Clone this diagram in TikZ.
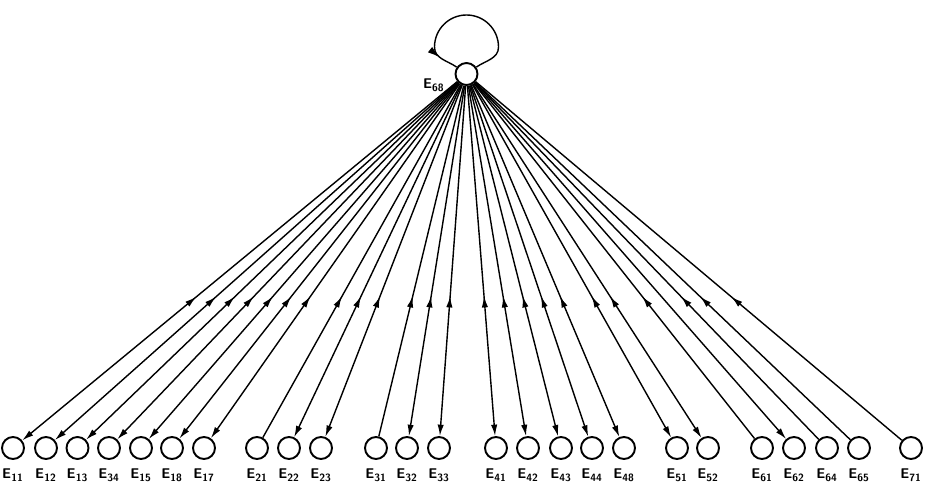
\documentclass[tikz,border=0pt]{standalone}
\usetikzlibrary{arrows.meta,decorations.markings}
\newcommand{\ename}[1]{E\textsubscript{#1}}
\tikzset{
  unit/.style={circle,draw,line width=1.1pt,minimum size=0.44cm,inner sep=0pt},
  lab/.style={font=\fontsize{8}{9}\selectfont\sffamily\bfseries,inner sep=1pt},
  link/.style={line width=0.8pt},
  tip/.style={-{Latex[length=6.5pt,width=3.6pt]}},
  midup/.style={postaction={decorate},decoration={markings,
    mark=at position 0.6 with {\arrowreversed{Latex[length=6.5pt,width=3.6pt]}}}},
}
\begin{document}
\begin{tikzpicture}
  \useasboundingbox (0,0) rectangle (18.5,9.76);
  % top unit with its loop
  \node[unit,label={[lab,label distance=0.16cm]189:\ename{68}}] (e68) at (9.33,8.28) {};
  \coordinate (loopR) at (9.97,8.82);
  \draw[link,postaction={decorate},decoration={markings,
    mark=at position 0.88 with {\arrow{Latex[length=7pt,width=4pt]}}}]
    (e68.35) to[out=35,in=-90] (loopR)
    arc[start angle=0,end angle=180,radius=0.64]
    to[out=-90,in=145] (e68.145);
  % bottom row
  \foreach \n/\x in {11/0.26,12/0.92,13/1.55,34/2.18,15/2.82,18/3.44,17/4.08,
                     21/5.14,22/5.78,23/6.42,31/7.52,32/8.14,33/8.78,
                     41/9.92,42/10.56,43/11.22,44/11.84,48/12.48,51/13.54,52/14.16,
                     61/15.24,62/15.88,64/16.54,65/17.18,71/18.22}
    \node[unit,label={[lab,label distance=1.4mm]below:\ename{\n}}] (e\n) at (\x,0.8) {};
  % fan of links
  \foreach \n in {11,12,13,34,15,18,17,22,23,32,33,41,42,43,44,48,51,52}
    \draw[link,tip,midup] (e68) -- (e\n);
  \foreach \n in {21,31,61,64,65,71}
    \draw[link,midup] (e68) -- (e\n);
  \draw[link,tip] (e68) -- (e62);
\end{tikzpicture}
\end{document}
